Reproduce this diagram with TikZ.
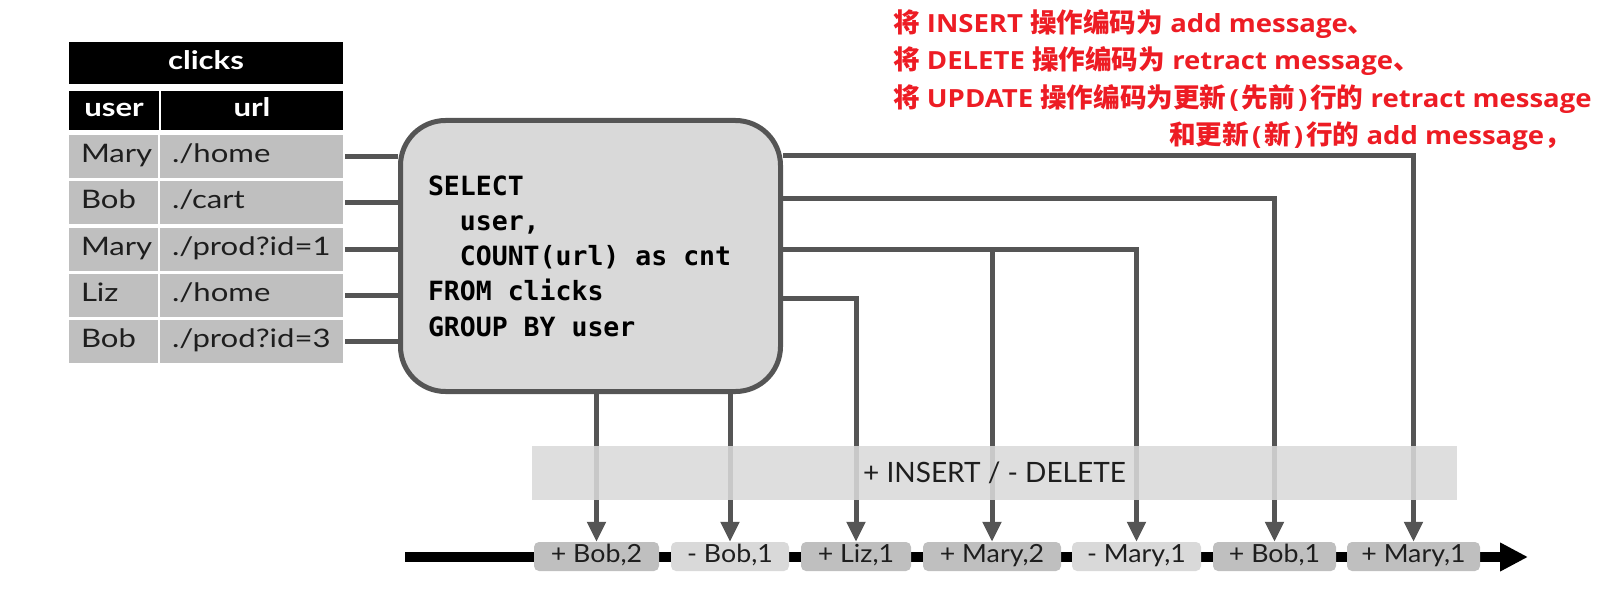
\documentclass[tikz,border=0pt]{standalone}
\usepackage{fontspec}
\setmainfont{Lato}
\newfontfamily\tabfont{Lato}[FakeStretch=1.22]
\newfontfamily\chipfont{Lato}[FakeStretch=1.07]
\newfontfamily\sqlfont{DejaVu Sans Mono}
\newfontfamily\cjk{Noto Sans CJK SC}
\newfontfamily\redlat{Open Sans}[FakeStretch=1.1]
\usetikzlibrary{arrows.meta}
\pgfdeclarelayer{bg}
\pgfsetlayers{bg,main}
\definecolor{linegray}{RGB}{85,85,85}
\definecolor{cellgray}{RGB}{191,191,191}
\definecolor{paleg}{RGB}{217,217,217}
\definecolor{redtxt}{RGB}{237,28,36}
\definecolor{chiptxt}{RGB}{30,30,30}
\newcommand\zhs[1]{{\cjk\bfseries\fontsize{26.6}{30}\selectfont #1}}
\newcommand\msp{\phantom{x}}
\newcommand\lp{\kern3pt(\kern3pt}
\newcommand\rp{\kern3pt)\kern3pt}
\begin{document}
\begin{tikzpicture}[x=1pt,y=-1pt,
  cell/.style={fill=cellgray, inner ysep=0, minimum height=43, text height=17, text depth=5,
    font=\tabfont\fontsize{25.5}{30}\selectfont, align=left, text=chiptxt},
  ucell/.style={cell, text width=65, inner xsep=12},
  lcell/.style={cell, text width=159, inner xsep=12},
  hdr/.style={fill=black, text=white, inner sep=0, font=\tabfont\bfseries\fontsize{25.5}{30}\selectfont,
    text height=17, text depth=4},
  sqlbox/.style={draw=linegray, line width=5, fill=paleg, rounded corners=45,
    minimum height=271, text width=325, inner xsep=27.5, align=left,
    font=\sqlfont\bfseries\fontsize{26.5}{35.3}\selectfont},
  conn/.style={draw=linegray, line width=5},
  arr/.style={conn, -{Triangle[width=18pt,length=20pt]}},
  chip/.style={rounded corners=5, inner sep=0, minimum height=29, text=chiptxt,
    font=\chipfont\fontsize{25}{30}\selectfont, text height=17, text depth=5},
  pchip/.style={chip, fill=cellgray},
  mchip/.style={chip, fill=paleg},
  band/.style={fill=paleg, fill opacity=0.88, text opacity=1, inner sep=0,
    minimum width=925, minimum height=54, text=chiptxt, font=\fontsize{28}{32}\selectfont},
  redline/.style={anchor=base west, inner sep=0, text=redtxt,
    font=\redlat\bfseries\fontsize{25}{30}\selectfont}
]
\useasboundingbox (0,0) rectangle (1617,591);

% table
\node[hdr, minimum width=274, minimum height=42] (title) at (206,63) {clicks};
\node[hdr, minimum width=90, minimum height=39] (huser) at (114,110.5) {user};
\node[hdr, minimum width=182, minimum height=39] (hurl) at (252,110.5) {url};
\node[ucell] (u1) at (113.5,156.5) {Mary};
\node[lcell] (m1) at (251.5,156.5) {./home};
\node[ucell] (u2) at (113.5,202.8) {Bob};
\node[lcell] (m2) at (251.5,202.8) {./cart};
\node[ucell] (u3) at (113.5,249.1) {Mary};
\node[lcell] (m3) at (251.5,249.1) {./prod?id=1};
\node[ucell] (u4) at (113.5,295.4) {Liz};
\node[lcell] (m4) at (251.5,295.4) {./home};
\node[ucell] (u5) at (113.5,341.7) {Bob};
\node[lcell] (m5) at (251.5,341.7) {./prod?id=3};

% query box
\node[sqlbox] (box) at (590.5,256) {SELECT\\\msp\msp user,\\\msp\msp COUNT(url)\msp as\msp cnt\\FROM\msp clicks\\GROUP\msp BY\msp user};

% chips
\node[pchip, minimum width=125] (c1) at (596.5,556.5) {+ Bob,2};
\node[mchip, minimum width=118] (c2) at (730,556.5) {- Bob,1};
\node[pchip, minimum width=110] (c3) at (856,556.5) {+ Liz,1};
\node[pchip, minimum width=138] (c4) at (992,556.5) {+ Mary,2};
\node[mchip, minimum width=129] (c5) at (1136.5,556.5) {- Mary,1};
\node[pchip, minimum width=123] (c6) at (1274.5,556.5) {+ Bob,1};
\node[pchip, minimum width=133] (c7) at (1413.5,556.5) {+ Mary,1};

% timeline (behind the chips)
\coordinate (tl0) at (405,557);
\coordinate (tl1) at (1528,557);
\begin{pgfonlayer}{bg}
\draw[line width=10, -{Triangle[width=27pt,length=28pt]}] (tl0) -- (tl1);
\end{pgfonlayer}

% input connectors
\foreach \r in {1,...,5}{
  \draw[conn] ([xshift=2pt]m\r.east) -- (box.west |- m\r.east);
}

% output connectors
\coordinate (y1) at (0,156);
\coordinate (y2) at (0,198);
\coordinate (y3) at (0,249);
\coordinate (y4) at (0,298);
\draw[arr] (box.south -| c1.north) -- (c1.north);
\draw[arr] (box.south -| c2.north) -- (c2.north);
\draw[arr] (box.east |- y4) -| (c3.north);
\draw[arr] (box.east |- y3) -| (c5.north);
\draw[arr] (c4.north |- y3) -- (c4.north);
\draw[arr] (box.east |- y2) -| (c6.north);
\draw[arr] (box.east |- y1) -| (c7.north);

% band
\node[band] (band) at (994.5,473) {+ INSERT / - DELETE};

% red notes
\node[redline] (t1) at (893,33) {\zhs{将} INSERT \zhs{操作编码为} add message\zhs{、}};
\node[redline] (t2) at (893,70) {\zhs{将} DELETE \zhs{操作编码为} retract message\zhs{、}};
\node[redline] (t3) at (893,108) {\zhs{将} UPDATE \zhs{操作编码为更新}\lp\zhs{先前}\rp\zhs{行的} retract message};
\node[redline] (t4) at (1169,145) {\zhs{和更新}\lp\zhs{新}\rp\zhs{行的} add message\zhs{，}};
\end{tikzpicture}
\end{document}
